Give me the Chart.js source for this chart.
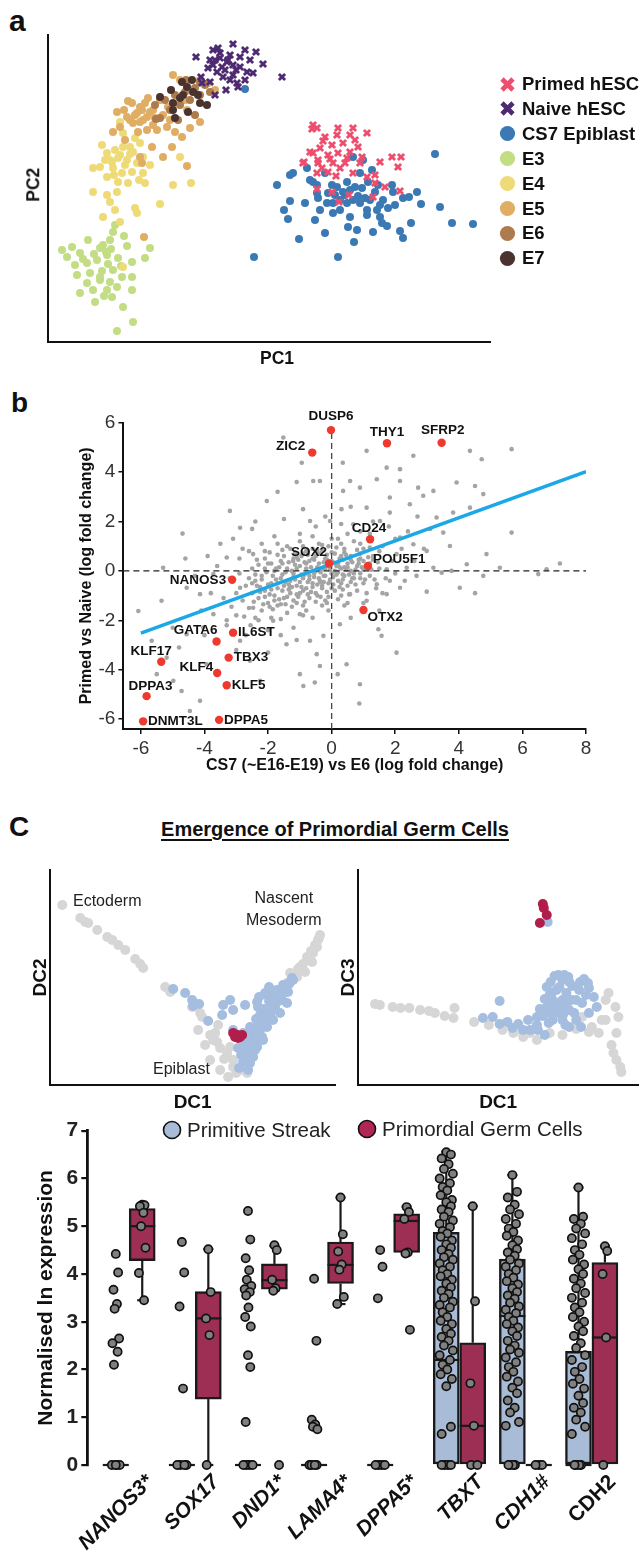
<!DOCTYPE html>
<html>
<head>
<meta charset="utf-8">
<script src="https://cdn.jsdelivr.net/npm/chart.js@4.4.1/dist/chart.umd.min.js"></script>
<style>
  body { margin: 0; background: #fff; font-family: "Liberation Sans", Arial, sans-serif; color: #111; }
  #page { position: relative; width: 643px; height: 1559px; overflow: hidden; background: #fff; }
  canvas { position: absolute; }
  .t { position: absolute; white-space: nowrap; line-height: 1; }
  .letter { font-weight: bold; }
  .rot { transform: rotate(-90deg); transform-origin: center center; text-align: center; }
  .leg { position: absolute; display: flex; align-items: center; font-weight: bold; font-size: 18.5px; white-space: nowrap; }
  .leg svg { margin-right: 5px; }
  .ann { position: absolute; font-size: 16px; color: #222; line-height: 1.35; white-space: nowrap; }
</style>
</head>
<body>
<div id="page">
  <div class="t letter" style="left:9px;top:6px;font-size:30px">a</div>
  <div class="t letter" style="left:11px;top:389px;font-size:28px">b</div>
  <div class="t letter" style="left:9px;top:813px;font-size:28px">C</div>

  <canvas id="pca" width="462" height="325" style="left:38px;top:25px"></canvas>
  <div class="t rot" style="left:-16px;top:176px;width:100px;font-size:17.5px;font-weight:bold">PC2</div>
  <div class="t" style="left:227px;top:350px;width:100px;text-align:center;font-size:17.5px;font-weight:bold">PC1</div>
  <div id="pcaLegend"></div>

  <canvas id="volcano" width="600" height="384" style="left:0;top:400px"></canvas>

  <div class="t" style="left:35px;top:819px;width:600px;text-align:center;font-size:20px;font-weight:bold;text-decoration:underline;text-decoration-thickness:2px;text-underline-offset:3px">Emergence of Primordial Germ Cells</div>
  <canvas id="dcLeft" width="318" height="262" style="left:25px;top:860px"></canvas>
  <canvas id="dcRight" width="310" height="262" style="left:333px;top:860px"></canvas>
  <div class="ann" style="left:73px;top:890px">Ectoderm</div>
  <div class="ann" style="left:246px;top:887px;text-align:center">Nascent<br>Mesoderm</div>
  <div class="ann" style="left:153px;top:1058px">Epiblast</div>

  <canvas id="boxes" width="643" height="449" style="left:0;top:1110px"></canvas>
  <div class="leg" style="left:162px;top:1118px;font-weight:normal;font-size:20.5px;color:#222">
    <svg width="20" height="20"><circle cx="10" cy="10" r="8.5" fill="#a8bcd8" stroke="#111" stroke-width="1.6"/></svg>Primitive Streak
  </div>
  <div class="leg" style="left:357px;top:1117px;font-weight:normal;font-size:20.5px;color:#222">
    <svg width="20" height="20"><circle cx="10" cy="10" r="8.5" fill="#b22556" stroke="#111" stroke-width="1.6"/></svg>Primordial Germ Cells
  </div>
</div>

<script>
Chart.defaults.font.family = '"Liberation Sans", Arial, sans-serif';
Chart.defaults.color = '#222';

// ---------- a: PCA ----------
const pcaNames = ['Primed hESC', 'Naive hESC', 'CS7 Epiblast', 'E3', 'E4', 'E5', 'E6', 'E7'];
const pcaColors = ['#ee4e6e', '#4e2a72', '#3b79b4', '#c3dd85', '#eedb78', '#dfae64', '#ad7b4e', '#4a332e'];

const primed = [[4.3,6.5],[4.7,6.2],[5.5,5.3],[6.8,6.2],[8.3,6.2],[9.7,5.7],[6.2,4.5],[7.3,4.7],[8.5,5.0],[5.0,4.2],
  [4.0,3.8],[5.8,3.5],[6.8,3.7],[8.0,3.8],[9.2,3.3],[3.4,2.8],[4.8,2.7],[6.3,2.7],[7.5,2.7],[11.0,2.8],
  [12.2,3.3],[13.1,3.3],[12.8,2.3],[4.7,1.7],[5.8,1.8],[7.0,2.2],[8.3,1.7],[9.7,1.3],[10.5,1.5],[10.5,0.7],
  [11.5,0.3],[13.0,-0.1],[4.7,0.1],[6.2,-0.2],[7.9,-0.5],[6.9,-1.2],[10.3,-0.7],[9.0,2.7],[8.0,5.5],[6.7,5.5],
  [4.2,6.1],[4.3,3.7],[3.3,2.7],[4.8,3.0],[5.3,4.9],[6.0,3.1],[7.7,3.2],[8.8,4.3],[5.2,2.2],[6.6,1.4]];
const naive = [[-7.4,13.3],[-5.7,14.0],[-5.2,14.2],[-3.7,14.6],[-2.5,14.0],[-1.4,13.8],[-0.7,12.6],[1.2,11.3],[-6.0,13.0],[-5.0,13.2],
  [-4.3,12.8],[-3.7,12.5],[-3.0,12.3],[-2.3,11.8],[-1.7,11.7],[-6.2,12.2],[-5.3,11.8],[-4.7,11.3],[-4.0,11.0],[-3.3,10.7],
  [-3.2,10.3],[-4.4,10.0],[-5.5,9.5],[-6.9,11.3],[-6.8,10.7],[-6.0,10.8],[-5.0,13.7],[-4.0,13.5],[-3.0,13.3],[-2.0,13.0],
  [-2.5,11.0],[-3.7,11.5],[-4.8,12.3],[-5.7,12.5],[-4.5,12.0],[-5.5,13.0],[-3.4,12.0],[-4.2,13.0]];
const cs7 = [[-2.5,10.1],[-1.6,-6.7],[0.7,0.5],[2.0,1.5],[2.3,1.7],[3.7,2.2],[4.3,0.8],[3.5,-1.3],[2.0,-1.1],[1.4,-2.0],
  [1.8,-2.9],[2.9,-4.9],[4.5,-3.0],[5.5,-4.3],[4.7,-0.3],[4.0,1.0],[4.8,-0.8],[5.8,-0.3],[6.8,-6.7],[8.4,-5.2],
  [7.8,-3.7],[8.7,-4.0],[10.3,-4.2],[11.2,-3.3],[11.7,-3.6],[13.0,-4.1],[13.3,-4.8],[14.1,-3.3],[16.5,3.6],[18.2,-3.3],
  [20.3,-3.4],[17.0,-1.7],[15.1,-1.4],[14.7,-0.2],[13.9,-0.7],[13.3,-0.8],[12.2,0.5],[11.3,-1.0],[10.7,-2.0],[9.7,-2.0],
  [9.0,-1.3],[8.3,-1.0],[7.7,-1.3],[7.0,-1.0],[6.3,-1.3],[5.7,-1.3],[6.7,0.3],[7.7,0.8],[8.5,0.3],[9.2,0.2],
  [9.8,0.8],[8.3,3.3],[9.3,3.0],[10.2,2.0],[9.0,1.7],[5.5,1.7],[4.7,0.5],[10.5,-0.2],[11.0,-1.5],[9.7,-2.5],
  [8.0,-2.7],[6.3,-2.3],[5.0,-2.0],[12.3,-0.2],[11.0,-2.7],[7.3,-0.2],[6.2,0.5],[7.5,-0.5],[8.0,0.0],[8.8,-0.6],
  [9.5,-0.8],[10.0,-1.0],[6.5,-0.5],[10.8,0.5],[11.8,-1.8],[12.5,-1.5],[7.0,-2.0]];
const e3 = [[-20.8,-6.0],[-19.8,-5.7],[-19.0,-6.3],[-18.2,-5.0],[-17.0,-5.8],[-16.0,-5.0],[-15.7,-4.2],[-14.6,-4.6],[-12.0,-5.8],[-12.5,-6.8],
  [-13.8,-7.2],[-19.5,-7.5],[-18.3,-7.3],[-17.3,-7.0],[-16.3,-6.5],[-15.2,-6.8],[-19.3,-8.5],[-18.0,-8.3],[-17.0,-8.7],[-15.7,-8.0],
  [-14.8,-8.7],[-13.8,-8.7],[-19.0,-10.3],[-17.7,-10.0],[-16.3,-10.0],[-15.3,-9.7],[-13.8,-10.0],[-15.8,-10.7],[-14.7,-11.7],[-13.7,-13.2],
  [-15.3,-14.1],[-17.0,-9.0],[-18.3,-9.3],[-20.3,-6.7],[-16.7,-5.5],[-16.4,-6.2],[-16.2,-7.4],[-15.9,-5.9],[-17.6,-6.4],[-16.8,-8.1],
  [-14.9,-7.6],[-16.0,-9.2],[-18.7,-6.9],[-15.5,-3.5],[-14.3,-5.6],[-17.5,-11.2],[-16.6,-10.6]];
const e4 = [[-16.8,4.5],[-16.3,3.7],[-15.5,4.0],[-14.7,4.3],[-13.7,3.8],[-16.0,3.0],[-15.2,3.2],[-14.3,3.0],[-13.3,2.7],[-17.7,2.2],
  [-17.0,2.3],[-15.7,2.2],[-14.8,1.7],[-13.8,1.8],[-12.7,1.7],[-16.3,1.3],[-15.2,0.8],[-14.2,0.7],[-12.5,0.7],[-17.7,-0.2],
  [-16.3,-0.5],[-15.3,-0.2],[-16.0,-1.2],[-15.5,-2.0],[-16.7,-2.7],[-15.0,-3.2],[-13.5,-1.8],[-13.3,-2.3],[-11.0,-1.4],[-9.7,0.5],
  [-7.9,0.7],[-9.0,3.3],[-14.0,4.3],[-12.7,3.3],[-13.0,4.7],[-14.7,5.7],[-15.0,6.8],[-13.5,5.2],[-12.0,2.5],[-14.7,-7.7],
  [-15.0,3.5],[-14.5,2.5],[-15.8,2.8],[-14.0,3.6],[-16.5,3.0],[-15.6,1.5],[-13.1,1.0]];
const e5 = [[-14.2,8.9],[-12.2,9.2],[-9.7,11.5],[-9.0,11.0],[-7.0,11.0],[-5.5,10.0],[-6.2,10.7],[-15.3,7.8],[-13.3,7.7],[-12.7,7.0],
  [-11.7,8.0],[-10.7,7.5],[-13.7,6.7],[-12.3,6.0],[-11.3,6.0],[-10.3,6.3],[-9.5,5.8],[-8.8,5.3],[-8.0,6.2],[-7.0,6.8],
  [-13.2,5.8],[-15.0,6.3],[-15.7,5.8],[-11.8,4.3],[-9.8,4.3],[-10.7,3.3],[-13.0,3.3],[-12.8,2.7],[-8.3,2.4],[-14.5,5.0],
  [-13.8,8.7],[-11.0,9.0],[-10.2,8.3],[-8.3,8.0],[-11.7,6.5],[-14.3,7.3],[-13.0,8.3],[-12.3,7.3],[-10.0,7.0],[-8.5,9.0],
  [-13.5,7.5],[-12.8,8.0],[-14.0,7.0],[-12.0,7.8],[-13.0,6.8],[-11.5,7.2],[-14.6,8.0],[-12.5,8.7],[-12.6,-4.7]];
const e6 = [[-10.5,9.0],[-9.5,9.5],[-8.5,9.8],[-7.5,10.2],[-6.5,10.5],[-10.0,8.0],[-9.0,8.5],[-8.0,9.0],[-7.0,9.5],[-6.0,9.8],
  [-11.5,8.5],[-11.0,7.2],[-9.2,7.0],[-7.5,7.5],[-11.4,7.1],[-8.4,11.0],[-7.0,10.8]];
const e7 = [[-9.9,10.0],[-8.8,10.8],[-7.8,11.0],[-7.7,9.8],[-8.7,9.5],[-9.0,9.2],[-9.7,8.7],[-9.7,8.0],[-8.2,7.8],[-7.0,8.7],
  [-6.3,8.5],[-11.0,9.3],[-8.3,10.3],[-9.5,7.2],[-7.2,9.5]];

const pcaLists = [primed, naive, cs7, e3, e4, e5, e6, e7];
const pcaOrder = [1, 2, 3, 8, 7, 6, 5, 4];   // draw order, lower = on top
const toXY = arr => arr.map(p => ({ x: p[0], y: p[1] }));

new Chart(document.getElementById('pca'), {
  type: 'scatter',
  data: {
    datasets: pcaLists.map((list, i) => ({
      label: pcaNames[i],
      data: toXY(list),
      order: pcaOrder[i],
      pointStyle: i < 2 ? 'crossRot' : 'circle',
      pointRadius: i < 2 ? 4.4 : 4,
      borderWidth: i < 2 ? 2.8 : 0,
      borderColor: pcaColors[i],
      backgroundColor: pcaColors[i]
    }))
  },
  options: {
    responsive: false,
    animation: false,
    layout: { padding: { left: 10, top: 10, right: 10, bottom: 8 } },
    plugins: { legend: { display: false }, tooltip: { enabled: false } },
    scales: {
      x: { min: -22.2, max: 22, ticks: { display: false }, grid: { display: false },
           border: { color: '#111', width: 2 }, afterFit: s => { s.height = 0; } },
      y: { min: -15.2, max: 15.5, ticks: { display: false }, grid: { display: false },
           border: { color: '#111', width: 2 }, afterFit: s => { s.width = 0; } }
    }
  }
});

// legend for a
const legBox = document.getElementById('pcaLegend');
pcaNames.forEach((name, i) => {
  const row = document.createElement('div');
  row.className = 'leg';
  row.style.left = '498px';
  row.style.top = (73 + i * 24.9) + 'px';
  const mark = i < 2
    ? `<svg width="19" height="19"><path d="M4 4L15 15M15 4L4 15" stroke="${pcaColors[i]}" stroke-width="4.6"/></svg>`
    : `<svg width="19" height="19"><circle cx="9.5" cy="9.5" r="7.6" fill="${pcaColors[i]}"/></svg>`;
  row.innerHTML = mark + name;
  legBox.appendChild(row);
});

// ---------- b: fold change scatter ----------
const markedGenes = ['DUSP6','ZIC2','THY1','SFRP2','CD24','SOX2','POU5F1','OTX2','NANOS3','GATA6','IL6ST','TBX3','KLF17','KLF4','KLF5','DPPA3','DNMT3L','DPPA5'];
const markedX = [-0.02,-0.61,1.74,3.46,1.21,-0.08,1.14,1.0,-3.13,-3.62,-3.10,-3.24,-5.36,-3.60,-3.30,-5.82,-5.93,-3.54];
const markedY = [5.70,4.79,5.17,5.19,1.28,0.30,0.20,-1.58,-0.36,-2.86,-2.50,-3.51,-3.68,-4.13,-4.63,-5.07,-6.09,-6.03];
const fitX = [-6, 8];
const fitY = [-2.52, 4.02];
const bgGenes = [
  [-6.08,-1.62],[-5.3,0.13],[-4.69,1.51],[-5.35,-1.21],[-5.66,-2.83],[-5.19,-3.51],[-5.5,-4.18],[-4.98,-4.45],[-4.72,-4.86],[-4.14,-5.26],
  [-4.46,-5.67],[-3.93,-3.78],[-4.56,-2.56],[-4.04,-2.29],[-3.72,-1.75],[-4.14,-0.94],[-4.56,-0.68],[-3.72,-0.13],[-3.3,0.54],[-3.2,2.43],
  [-2.88,1.75],[-2.47,0.68],[-2.88,-0.68],[-2.47,-1.49],[-2.88,-2.83],[-2.57,-3.64],[-2.25,-4.45],[-1.84,-2.02],[-2.04,2.83],[-1.52,5.4],
  [-0.94,4.38],[-1.21,0.4],[-1.31,-0.68],[-1.0,-1.75],[-1.42,-2.97],[-1.0,-4.18],[-0.47,-3.37],[-0.68,2.02],[-0.58,3.64],[-0.37,-0.4],
  [-1.7,3.2],[-1.1,3.6],[-2.4,2.0],[-3.5,1.1],[-4.6,0.5],[-5.0,-2.3],[-4.8,-3.1],[-3.3,-2.2],
  [1.1,4.86],[0.35,4.38],[2.57,4.66],[4.35,4.86],[4.72,4.52],[5.66,4.93],[2.15,4.12],[1.73,4.18],[1.42,3.71],[2.15,3.64],
  [2.72,3.37],[3.2,3.24],[3.93,3.58],[4.51,3.44],[4.77,3.11],[0.58,3.64],[0.89,3.37],[1.83,2.97],[2.46,2.7],[2.88,3.04],
  [3.3,2.16],[3.82,2.36],[3.51,1.55],[4.35,2.56],[5.66,1.55],[3.72,1.01],[2.99,0.81],[2.57,1.08],[2.15,1.35],[2.04,0.68],
  [2.67,-0.2],[2.99,-0.84],[3.46,-0.07],[4.03,-0.68],[4.51,-0.9],[4.87,0.68],[6.5,-0.13],[6.76,0.07],[7.18,0.3],[1.47,-2.36],
  [1.57,-2.63],[2.04,-3.31],[0.89,-4.59],[0.87,-5.37],[0.47,-3.78],[0.19,-4.18],[0.26,-2.16],[1.1,-1.21],[1.73,-0.94],[0.58,-0.94],
  [-0.26,-2.63],[-0.53,-4.52],[-0.89,-4.66],[-0.37,-3.85],[-0.68,-2.83],[1.1,2.56],[1.52,2.02],[1.83,2.36],[0.31,2.5],[0.68,1.89],
  [-0.05,2.02],[-0.37,3.64],[0.36,3.24],[4.77,-0.2],[5.29,0.13],[3.77,0.0],[4.25,0.27],[3.2,0.13],[2.36,0.13],[1.73,0.07],
  [1.83,-0.4],[1.42,-0.54],[2.15,-0.68],
  [-2.8,-1.2],[-2.7,-0.6],[-2.6,-1.5],[-2.5,-0.9],[-2.5,0.1],[-2.4,-1.9],[-2.4,-0.4],[-2.3,-1.1],[-2.2,-0.2],[-2.2,-1.6],
  [-2.1,-0.8],[-2.0,-1.3],[-2.0,0.3],[-1.9,-0.5],[-1.9,-1.9],[-1.8,-1.0],[-1.8,0.0],[-1.7,-0.7],[-1.7,-1.4],[-1.6,0.4],
  [-1.6,-0.3],[-1.5,-1.1],[-1.5,-0.6],[-1.4,0.1],[-1.4,-1.7],[-1.3,-0.4],[-1.3,-0.9],[-1.2,0.5],[-1.2,-0.1],[-1.1,-1.3],
  [-1.1,-0.6],[-1.0,0.2],[-1.0,-0.9],[-0.9,-0.3],[-0.9,0.7],[-0.8,-1.6],[-0.8,-0.7],[-0.8,0.1],[-0.7,-0.2],[-0.7,0.4],
  [-0.7,-1.1],[-0.6,0.9],[-0.6,-0.5],[-0.5,0.0],[-0.5,-0.9],[-0.5,0.6],[-0.4,-0.3],[-0.4,0.3],[-0.4,1.1],[-0.3,-0.7],
  [-0.3,0.1],[-0.3,0.8],[-0.2,-1.2],[-0.2,-0.2],[-0.2,0.5],[-0.1,0.2],[-0.1,-0.5],[-0.1,1.0],[0.0,-0.1],[0.0,0.4],
  [0.1,-0.8],[0.1,0.7],[0.1,0.0],[0.2,0.3],[0.2,-0.4],[0.2,1.3],[0.3,0.1],[0.3,-1.0],[0.3,0.6],[0.4,-0.2],
  [0.4,0.9],[0.5,0.3],[0.5,-0.6],[0.6,0.0],[0.6,0.6],[0.7,-0.3],[0.7,1.2],[0.8,0.2],[0.8,-0.8],[0.9,0.5],
  [0.9,-0.1],[1.0,0.9],[1.0,-0.5],[1.1,0.2],[1.2,-0.2],[1.2,1.5],[1.3,0.6],[1.4,-0.7],[1.5,0.1],[1.6,1.0],
  [1.7,-0.3],[1.9,0.4],
  [-3.2,-0.3],[-3.0,-1.8],[-2.9,0.5],[-3.4,-1.1],[-3.6,0.2],[-2.6,0.8],[-2.2,1.1],[-1.8,1.4],[-1.4,1.0],[-1.0,1.5],
  [-0.5,1.8],[-0.2,2.2],[0.3,1.9],[0.6,2.6],[0.9,1.6],[1.3,2.0],[1.8,1.8],[2.2,0.9],[2.4,1.6],[2.7,2.2],
  [2.3,-0.4],[2.6,0.4],[2.9,0.9],[3.1,1.7],[-1.2,-2.3],[-0.6,-1.9],[-0.1,-1.6],[0.4,-1.4],[-1.6,-2.6],[-2.0,-2.4],
  [-2.7,-2.6],[-3.3,-2.0],[-3.8,-0.9],[-4.1,-1.6],[-3.9,0.6],[-4.3,-0.2],[0.6,-1.9],[1.0,-1.3],[1.5,-1.6],[-0.9,2.5],
  [-1.5,2.1],[-2.5,1.7],[-3.1,1.3],[-4.0,-2.6],[-3.0,-3.2],[-2.0,-3.3],[-1.1,-2.8],
  [-2.6,-0.3],[-2.45,-1.25],[-2.35,0.45],[-2.25,-0.65],[-2.15,-1.35],[-2.05,-0.05],[-1.95,0.75],[-1.95,-0.95],[-1.85,-1.55],[-1.75,-0.35],
  [-1.65,0.15],[-1.65,-1.15],[-1.55,0.85],[-1.45,-0.45],[-1.45,-1.35],[-1.35,0.35],[-1.35,-0.75],[-1.25,-1.45],[-1.25,0.0],[-1.15,0.75],
  [-1.15,-0.35],[-1.05,-1.05],[-1.05,0.45],[-0.95,-0.15],[-0.95,-0.65],[-0.85,0.35],[-0.85,-1.25],[-0.75,0.65],[-0.75,-0.45],[-0.65,0.15],
  [-0.65,-0.85],[-0.55,-0.25],[-0.55,0.45],[-0.45,-0.55],[-0.45,0.85],[-0.35,-0.05],[-0.35,-1.05],[-0.25,0.35],[-0.25,-0.45],[-0.15,0.65],
  [-0.15,-0.85],[-0.05,0.05],[-0.05,-0.35],[0.05,0.35],[0.05,-0.55],[0.15,0.95],[0.15,-0.15],[0.25,-0.65],[0.25,0.15],[0.35,0.45],
  [0.35,-0.35],[0.45,0.05],[0.45,0.65],[0.55,-0.15],[0.55,-0.95],[0.65,0.35],[0.75,0.05],[0.75,-0.55],[0.85,0.45],[0.95,0.15],
  [1.05,-0.35],[1.15,0.55],[1.25,0.05],[1.35,-0.35],[1.45,0.35],[-2.9,-0.1],[-3.0,-0.9],[-2.75,-1.85],[-2.55,-2.2],[-3.15,-1.45],
  [-2.3,-2.0],[-1.6,-1.95],[-0.9,-1.8],[-0.3,-1.4],[0.5,-1.3],[1.1,-0.9],[1.6,-0.9],[2.0,-0.1],[-2.8,0.9],[-2.1,0.8],
  [-1.7,1.1],[-1.0,1.2],[-0.6,1.4],[0.0,1.3],[0.5,1.5],[0.9,1.1],[1.5,0.8],[2.0,1.3],
  [-1.3,0.9],[-0.9,1.0],[-0.3,1.05],[0.3,1.1],[0.8,0.85],[-1.7,0.65],[-1.1,0.55],[-0.8,0.8],[-0.4,0.7],[0.0,0.75],
  [0.4,0.75],[0.9,0.7],[1.2,0.95],[-2.1,0.5],[-1.5,0.6],[-0.95,0.6],[-0.6,0.5],[-0.15,0.45],[0.25,0.5],[0.6,0.45],
  [1.0,0.4],[1.3,0.45],[-2.3,0.25],[-1.9,0.3],[-1.55,0.3],[-1.15,0.25],[-0.8,0.3],[-0.45,0.15],[-0.1,0.35],[0.15,0.2],
  [0.5,0.15],[0.85,0.3],[1.2,0.3],[-2.4,-0.15],[-2.1,0.1],[-1.75,0.1],[-1.45,-0.05],[-1.1,0.1],[-0.75,-0.05],[-0.45,0.05],
  [-0.2,0.1],[0.2,-0.05],[0.4,0.15],[0.7,-0.1],[1.0,0.05],[-2.5,-0.5],[-2.2,-0.35],[-1.85,-0.2],[-1.55,-0.15],[-1.2,-0.25],
  [-0.85,-0.15],[-0.55,-0.1],[-0.25,-0.2],[0.05,-0.25],[0.35,-0.15],[0.65,-0.3],[0.9,-0.3],[-2.35,-0.6],[-2.0,-0.55],[-1.7,-0.5],
  [-1.35,-0.55],[-1.0,-0.45],[-0.7,-0.35],[-0.35,-0.45],[-0.05,-0.45],[0.3,-0.5],[0.6,-0.45],[-2.25,-0.85],[-1.9,-0.75],[-1.55,-0.8],
  [-1.25,-0.65],[-0.9,-0.8],[-0.6,-0.65],[-0.3,-0.6],[0.0,-0.7],[0.35,-0.75],[-2.1,-1.05],[-1.8,-1.2],[-1.4,-1.05],[-1.1,-0.95],
  [-0.75,-0.95],[-0.45,-1.0],[-0.1,-1.05],[0.2,-1.15],[-1.95,-1.45],[-1.6,-1.35],[-1.2,-1.2],[-0.9,-1.4],[-0.5,-1.25],[-0.15,-1.3]
];

// label placement for marked genes: [dx, dy, align]
const labelPos = {
  DUSP6: [0, -14, 'center'], ZIC2: [-7, -6, 'right'], THY1: [0, -11, 'center'], SFRP2: [1, -12, 'center'],
  CD24: [-1, -11, 'center'], SOX2: [-2, -11, 'right'], POU5F1: [5, -7, 'left'], OTX2: [4, 7, 'left'],
  NANOS3: [-6, 0, 'right'], GATA6: [1, -11, 'right'], IL6ST: [5, 0, 'left'], TBX3: [5, 0, 'left'],
  KLF17: [-10, -11, 'center'], KLF4: [-4, -6, 'right'], KLF5: [5, 0, 'left'], DPPA3: [4, -10, 'center'],
  DNMT3L: [5, 0, 'left'], DPPA5: [5, 0, 'left']
};

const geneLabels = {
  id: 'geneLabels',
  afterDatasetsDraw(chart) {
    const { ctx, scales: { x, y } } = chart;
    ctx.save();
    ctx.font = 'bold 13.5px "Liberation Sans", Arial, sans-serif';
    ctx.fillStyle = '#111';
    ctx.textBaseline = 'middle';
    markedGenes.forEach((g, i) => {
      const [dx, dy, align] = labelPos[g];
      ctx.textAlign = align;
      ctx.fillText(g, x.getPixelForValue(markedX[i]) + dx, y.getPixelForValue(markedY[i]) + dy);
    });
    ctx.restore();
  }
};

new Chart(document.getElementById('volcano'), {
  type: 'scatter',
  data: {
    datasets: [
      { data: toXY(bgGenes), order: 5, pointRadius: 2.3, borderWidth: 0, backgroundColor: '#a4a4a4' },
      { data: [{ x: -6.55, y: 0 }, { x: 8, y: 0 }], order: 4, showLine: true, pointRadius: 0,
        borderColor: '#222', borderWidth: 1.3, borderDash: [6, 4] },
      { data: [{ x: 0, y: -6.4 }, { x: 0, y: 5.7 }], order: 4, showLine: true, pointRadius: 0,
        borderColor: '#444', borderWidth: 1.3, borderDash: [6, 4] },
      { data: fitX.map((v, i) => ({ x: v, y: fitY[i] })), order: 3, showLine: true, pointRadius: 0,
        borderColor: '#1aa9e6', borderWidth: 3.6 },
      { data: markedX.map((v, i) => ({ x: v, y: markedY[i] })), order: 1, pointRadius: 4.2,
        borderWidth: 0, backgroundColor: '#ee3a2e' }
    ]
  },
  options: {
    responsive: false,
    animation: false,
    layout: { padding: { left: 73.4, top: 22.7, right: 14, bottom: 5 } },
    plugins: { legend: { display: false }, tooltip: { enabled: false } },
    scales: {
      x: {
        min: -6.55, max: 8,
        ticks: { stepSize: 2, includeBounds: false, padding: 3, color: '#333', font: { size: 19 } },
        grid: { drawOnChartArea: false, drawTicks: true, tickLength: 5, color: '#111', lineWidth: 1.5 },
        border: { color: '#111', width: 2 },
        title: { display: true, text: 'CS7 (~E16-E19) vs E6 (log fold change)', color: '#111',
                 font: { size: 16, weight: 'bold' }, padding: { top: 4, bottom: 4 } },
        afterFit: s => { s.height = 50; }
      },
      y: {
        min: -6.4, max: 6,
        ticks: { stepSize: 2, includeBounds: false, padding: 3, color: '#333', font: { size: 19 } },
        grid: { drawOnChartArea: false, drawTicks: true, tickLength: 5, color: '#111', lineWidth: 1.5 },
        border: { color: '#111', width: 2 },
        title: { display: true, text: 'Primed vs Naive (log fold change)', color: '#111',
                 font: { size: 16, weight: 'bold' }, padding: { top: 4, bottom: 4 } },
        afterFit: s => { s.width = 50; }
      }
    }
  },
  plugins: [geneLabels]
});

// ---------- c: diffusion maps ----------
const dcColors = { other: '#d6d6d6', streak: '#a5bddf', pgc: '#b21e4b' };

const dc12Other = [[1.2,18.0],[3.0,16.7],[3.8,16.2],[4.7,15.5],[6.2,14.5],[6.8,14.0],[7.5,13.5],[8.5,12.6],[9.3,11.7],[3.5,16.3],
  [5.7,14.8],[9.0,12.1],[11.5,9.8],[15.0,7.2],[16.0,5.0],[16.7,4.3],[17.0,3.7],[17.7,3.2],[18.3,2.5],[19.0,1.5],
  [18.3,1.8],[19.7,1.2],[18.0,3.8],[15.2,6.8],[16.5,5.2],[27.0,15.0],[26.7,13.8],[26.0,12.5],[25.3,11.5],[24.7,10.8],
  [24.0,11.2],[23.7,10.2],[25.0,11.8],[26.3,13.2],[26.8,14.5],[24.3,11.0],[24.8,11.6],[25.3,12.1],[25.7,12.8],[26.1,13.4],
  [26.5,14.0],[26.9,14.7],[25.5,11.3],[26.2,12.3],[17.4,2.6],[18.6,1.2],[16.3,4.5],[14.2,7.8],[16.0,2.5],[17.0,1.5],
  [17.8,0.8],[15.5,4.0],[14.8,5.5],[12.0,9.3],[16.8,6.0]];
const dc12Streak = [[12.3,9.6],[13.5,9.2],[14.2,8.5],[14.9,8.1],[14.3,7.9],[15.8,6.4],[17.3,8.0],[17.2,7.0],[18.3,7.5],[18.0,8.5],
  [19.5,8.0],[20.7,8.3],[21.7,9.0],[22.7,9.5],[23.3,10.0],[24.0,10.3],[24.3,10.5],[23.8,9.3],[23.2,8.5],[22.5,7.7],
  [22.0,6.8],[21.7,5.8],[21.2,4.8],[20.7,3.8],[20.3,2.8],[20.0,2.2],[19.8,1.5],[19.7,3.2],[20.0,4.2],[20.3,5.2],
  [20.8,6.2],[21.3,7.2],[21.0,5.5],[21.5,6.5],[22.3,6.5],[23.0,7.2],[23.7,8.2],[22.7,8.5],[22.0,8.2],[21.3,4.5],
  [20.5,3.5],[19.3,5.2],[18.8,3.7],[18.9,1.7],[18.3,5.5],[18.7,5.0],[20.0,5.8],[20.8,7.8],[21.5,9.2],[23.5,9.3],
  [24.2,10.7],[19.3,2.3],[19.6,2.8],[19.9,3.3],[20.1,3.9],[20.4,4.4],[20.7,4.9],[20.9,5.4],[21.2,5.9],[21.5,6.3],
  [21.8,6.9],[22.1,7.3],[22.4,7.9],[22.7,8.3],[23.0,8.8],[23.3,9.2],[23.6,9.7],[23.9,10.1],[19.1,3.0],[19.4,4.0],
  [19.7,4.6],[20.2,5.5],[20.6,6.6],[21.0,7.0],[21.4,7.6],[21.9,8.4],[22.3,9.0],[20.9,8.8],[21.9,9.8]];
const dc12Pgc = [[18.3,5.2],[18.7,5.0],[19.0,4.8],[18.8,4.7],[18.5,4.8],[19.2,5.0]];

const dc13Other = [[1.7,8.1],[2.2,8.0],[3.5,7.8],[4.3,7.7],[5.2,7.7],[6.3,7.5],[7.2,7.4],[7.8,7.2],[8.8,6.9],[9.7,6.7],
  [9.8,7.7],[11.8,6.3],[14.7,5.5],[15.8,5.2],[16.8,4.8],[18.2,4.5],[19.5,5.2],[23.8,5.8],[24.8,6.5],[25.5,9.2],
  [26.2,7.8],[26.5,6.8],[26.3,5.2],[25.8,4.0],[26.0,3.2],[26.3,2.5],[26.7,1.8],[26.8,1.3],[25.2,6.5],[24.5,5.2],
  [23.5,5.3],[22.8,6.8],[17.5,5.2],[16.2,5.5],[15.0,6.2],[25.2,8.5],[13.3,6.0],[20.8,5.0],[22.2,5.6]];
const dc13Streak = [[14.4,8.4],[12.7,6.7],[13.7,6.8],[14.4,6.1],[15.2,6.3],[15.7,5.7],[16.3,6.1],[17.3,6.5],[18.2,6.8],[17.5,5.5],
  [18.3,5.5],[19.0,5.0],[19.5,7.2],[19.8,8.5],[20.2,9.5],[20.8,10.5],[21.5,10.3],[21.2,9.2],[20.5,8.2],[20.2,7.2],
  [20.8,6.5],[21.5,7.5],[22.2,8.5],[22.5,9.5],[23.5,9.7],[24.0,8.8],[24.3,7.8],[23.5,7.2],[22.7,5.8],[21.5,5.8],
  [19.8,6.5],[19.2,7.8],[21.7,8.5],[22.8,8.2],[23.2,9.0],[20.8,8.5],[19.7,9.2],[20.5,9.8],[21.2,7.8],[22.0,7.2],
  [18.2,6.0],[16.8,5.5],[19.2,9.8],[19.6,10.3],[20.0,10.9],[20.4,11.0],[21.0,11.0],[21.4,10.8],[19.5,9.0],[20.0,8.0],
  [20.3,7.6],[20.9,7.1],[19.4,6.2],[18.8,6.9],[18.5,7.6],[19.0,8.6],[21.8,9.9],[22.6,10.3],[23.0,10.6],[23.4,10.2],
  [22.2,6.5],[21.1,6.0],[19.3,16.3]];
const dc13Pgc = [[18.8,18.1],[18.9,17.7],[19.2,17.0],[18.5,16.2]];

function dcChart(id, other, streak, pgc, yTitle) {
  const axisOpts = (title, isX) => ({
    min: 0, max: isX ? 28.5 : 21.5,
    ticks: { display: false },
    grid: { display: false },
    border: { color: '#111', width: 2 },
    title: { display: true, text: title, color: '#111', font: { size: 19, weight: 'bold' }, padding: { top: 4, bottom: 4 } },
    afterFit: s => { if (isX) s.height = 33.4; else s.width = 25.3; }
  });
  return new Chart(document.getElementById(id), {
    type: 'scatter',
    data: {
      datasets: [
        { data: toXY(pgc), order: 1, pointRadius: 5, borderWidth: 0, backgroundColor: dcColors.pgc },
        { data: toXY(streak), order: 2, pointRadius: 5, borderWidth: 0, backgroundColor: dcColors.streak },
        { data: toXY(other), order: 3, pointRadius: 5, borderWidth: 0, backgroundColor: dcColors.other }
      ]
    },
    options: {
      responsive: false,
      animation: false,
      layout: { padding: { left: 0, top: 10, right: id === 'dcLeft' ? 8 : 0, bottom: 3.6 } },
      plugins: { legend: { display: false }, tooltip: { enabled: false } },
      scales: { x: axisOpts('DC1', true), y: axisOpts(yTitle, false) }
    }
  });
}
dcChart('dcLeft', dc12Other, dc12Streak, dc12Pgc, 'DC2');
dcChart('dcRight', dc13Other, dc13Streak, dc13Pgc, 'DC3');

// ---------- c: box plots ----------
const genes = ['NANOS3*', 'SOX17', 'DND1*', 'LAMA4*', 'DPPA5*', 'TBXT', 'CDH1#', 'CDH2'];

const psQ1  = [0, 0, 0, 0, 0, 0, 0, 0];
const psMed = [0, 0, 0, 0, 0, 2.20, 3.12, 0];
const psQ3  = [0, 0, 0, 0, 0, 4.87, 4.31, 2.38];
const psLo  = [0, 0, 0, 0, 0, 0, 0, 0];
const psHi  = [0, 0, 0, 0, 0, 6.56, 6.07, 5.81];

const pgcQ1  = [4.28, 1.38, 3.68, 3.80, 4.45, 0, 0, 0];
const pgcMed = [5.00, 3.07, 3.87, 4.19, 5.11, 0.82, 0, 2.67];
const pgcQ3  = [5.37, 3.63, 4.21, 4.67, 5.26, 2.56, 0, 4.24];
const pgcLo  = [3.45, 0, 3.65, 3.37, 4.45, 0, 0, 0];
const pgcHi  = [5.45, 4.52, 4.59, 5.60, 5.41, 5.42, 0, 4.58];

const psCells = [
  [4.42, 4.03, 3.67, 3.37, 3.27, 2.65, 2.55, 2.37, 2.10, 0, 0, 0, 0],
  [4.67, 4.03, 3.32, 1.60, 0, 0, 0, 0],
  [5.32, 4.72, 4.33, 4.08, 3.88, 3.75, 3.68, 3.62, 3.55, 3.30, 3.10, 2.90, 2.30, 2.05, 0.90, 0, 0, 0, 0],
  [3.90, 2.60, 0.95, 0.85, 0.80, 0.75, 0, 0, 0, 0],
  [4.50, 4.15, 3.49, 0, 0, 0, 0],
  [6.55, 6.50, 6.42, 6.30, 6.20, 6.10, 6.00, 5.90, 5.82, 5.75, 5.65, 5.55, 5.50, 5.42, 5.35, 5.30, 5.20, 5.12, 5.05, 4.98,
   4.90, 4.85, 4.78, 4.70, 4.62, 4.55, 4.50, 4.42, 4.35, 4.30, 4.22, 4.15, 4.08, 4.00, 3.95, 3.88, 3.80, 3.72, 3.65, 3.58,
   3.50, 3.42, 3.35, 3.30, 3.20, 3.10, 3.02, 2.95, 2.85, 2.75, 2.68, 2.60, 2.50, 2.40, 2.30, 2.20, 2.10, 2.00, 1.90, 1.80,
   1.65, 0.80, 0.65, 0, 0, 0, 0],
  [6.07, 5.72, 5.60, 5.45, 5.35, 5.25, 5.15, 5.05, 4.95, 4.88, 4.80, 4.70, 4.60, 4.52, 4.45, 4.38, 4.30, 4.22, 4.15, 4.08,
   4.00, 3.92, 3.85, 3.78, 3.70, 3.62, 3.55, 3.48, 3.40, 3.32, 3.25, 3.18, 3.10, 3.02, 2.95, 2.88, 2.80, 2.70, 2.60, 2.50,
   2.42, 2.35, 2.25, 2.15, 2.05, 1.95, 1.85, 1.75, 1.62, 1.50, 1.35, 1.20, 1.10, 0.90, 0.82, 0, 0, 0, 0],
  [5.81, 5.20, 5.15, 5.05, 4.95, 4.85, 4.75, 4.62, 4.50, 4.40, 4.30, 4.20, 4.10, 4.00, 3.90, 3.80, 3.70, 3.60, 3.50, 3.40,
   3.30, 3.20, 3.10, 3.00, 2.90, 2.80, 2.70, 2.55, 2.45, 2.30, 2.20, 2.05, 1.95, 1.80, 1.70, 1.60, 1.45, 1.30, 1.20, 1.10,
   0.95, 0.80, 0.65, 0, 0, 0, 0]
];
const pgcCells = [
  [5.45, 5.44, 5.42, 5.28, 5.00, 4.55, 4.02, 3.45],
  [4.52, 3.62, 3.07, 2.72, 0],
  [4.60, 4.50, 3.88, 3.70, 3.65, 0],
  [5.60, 4.83, 4.47, 4.20, 4.09, 3.52, 3.37],
  [5.40, 5.30, 5.15, 4.45, 4.43, 2.83],
  [5.42, 3.43, 1.71, 0.82, 0, 0],
  [0, 0, 0],
  [4.58, 4.48, 4.00, 2.67, 0]
];

// small horizontal spread so overlapping cells stay visible
const spread = [0, 0.07, -0.07, 0.035, -0.035, 0.1, -0.1, 0.055, -0.055, 0.015, -0.085, 0.085];
function cellPoints(cells, shift) {
  const pts = [];
  cells.forEach((vals, i) => {
    const w = vals.length > 30 ? 1 : 0.5;
    vals.forEach((v, k) => pts.push({ x: i + shift + spread[k % spread.length] * (v === 0 ? 0.7 : w), y: v }));
  });
  return pts;
}
function boxData(q1, q3, shift) {
  return genes.map((g, i) => ({ x: i + shift, y: [q1[i], q3[i]] })).filter(d => d.y[1] > d.y[0]);
}

const boxLines = {
  id: 'boxLines',
  beforeDatasetDraw(chart, args) {
    if (args.index !== 0) return;
    const { ctx, scales: { x, y } } = chart;
    const seg = (x1, y1, x2, y2) => { ctx.beginPath(); ctx.moveTo(x1, y1); ctx.lineTo(x2, y2); ctx.stroke(); };
    ctx.save();
    ctx.strokeStyle = '#1a1a1a';
    ctx.lineWidth = 2.2;
    [[psQ1, psMed, psQ3, psLo, psHi, -0.2], [pgcQ1, pgcMed, pgcQ3, pgcLo, pgcHi, 0.2]].forEach(([q1, med, q3, lo, hi, shift]) => {
      genes.forEach((g, i) => {
        const cx = x.getPixelForValue(i + shift);
        const ym = y.getPixelForValue(med[i]);
        seg(cx - 13, ym, cx + 13, ym);
        if (hi[i] > q3[i]) {
          seg(cx, y.getPixelForValue(q3[i]), cx, y.getPixelForValue(hi[i]));
          seg(cx - 5, y.getPixelForValue(hi[i]), cx + 5, y.getPixelForValue(hi[i]));
        }
        if (lo[i] < q1[i]) {
          seg(cx, y.getPixelForValue(q1[i]), cx, y.getPixelForValue(lo[i]));
          seg(cx - 5, y.getPixelForValue(lo[i]), cx + 5, y.getPixelForValue(lo[i]));
        }
      });
    });
    ctx.restore();
  }
};

new Chart(document.getElementById('boxes'), {
  type: 'bar',
  data: {
    datasets: [
      { type: 'scatter', data: cellPoints(psCells, -0.2).concat(cellPoints(pgcCells, 0.2)), order: 0, clip: false,
        pointRadius: 4.1, backgroundColor: '#808080', borderColor: '#111', borderWidth: 1.7 },
      { label: 'Primitive Streak', data: boxData(psQ1, psQ3, -0.2), order: 2, grouped: false, barThickness: 26,
        backgroundColor: '#a8bcd8', borderColor: '#1a1a1a', borderWidth: 2.4, borderSkipped: false },
      { label: 'Primordial Germ Cells', data: boxData(pgcQ1, pgcQ3, 0.2), order: 2, grouped: false, barThickness: 26,
        backgroundColor: '#9d2f55', borderColor: '#1a1a1a', borderWidth: 2.4, borderSkipped: false }
    ]
  },
  options: {
    responsive: false,
    animation: false,
    layout: { padding: { left: 30, top: 20.7, right: 18.25, bottom: 0 } },
    plugins: { legend: { display: false }, tooltip: { enabled: false } },
    scales: {
      x: {
        type: 'linear', offset: false, min: -0.631, max: 7.5,
        grid: { display: false, drawTicks: false, offset: false },
        border: { display: false },
        afterBuildTicks: s => { s.ticks = genes.map((g, i) => ({ value: i })); },
        ticks: {
          minRotation: 45, maxRotation: 45, padding: 5, labelOffset: 21, color: '#111',
          callback: v => genes[v],
          font: ctx => ({ size: 21, weight: 'bold', style: ctx.index === 7 ? 'normal' : 'italic' })
        },
        afterFit: s => { s.height = 94; }
      },
      y: {
        min: 0, max: 7,
        ticks: { stepSize: 1, padding: 3, color: '#222', font: { size: 21, weight: 'bold' } },
        grid: { drawOnChartArea: false, drawTicks: true, tickLength: 6, color: '#111', lineWidth: 2.2 },
        border: { color: '#111', width: 2.8 },
        title: { display: true, text: 'Normalised ln expression', color: '#111',
                 font: { size: 21, weight: 'bold' }, padding: { top: 4, bottom: 4 } },
        afterFit: s => { s.width = 57.3; }
      }
    }
  },
  plugins: [boxLines]
});
</script>
</body>
</html>
